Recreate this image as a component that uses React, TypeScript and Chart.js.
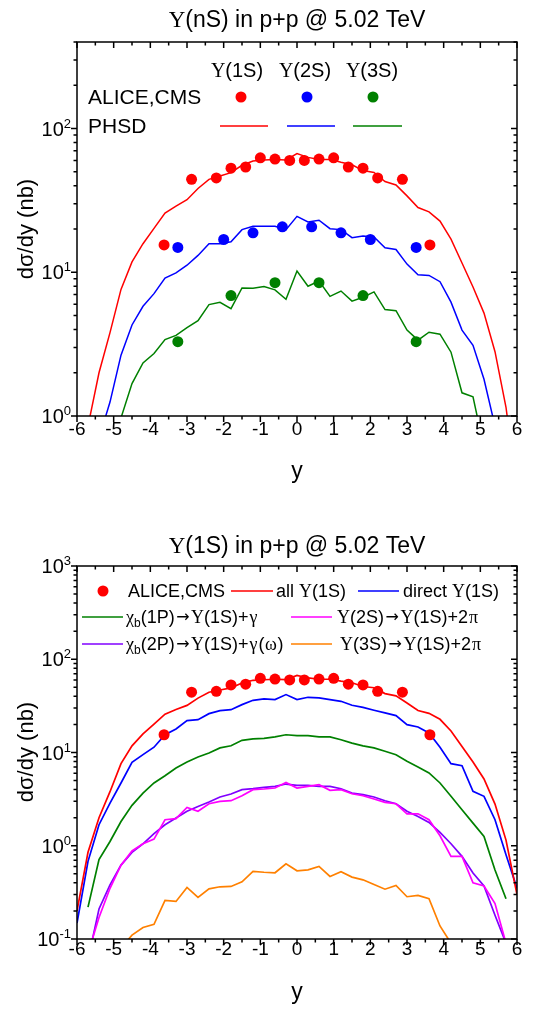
import React, { useEffect, useRef } from 'react';
import { Chart, registerables } from 'chart.js';
Chart.register(...registerables);

// ---------- data ----------
const Y_GRID = [-6.0, -5.7, -5.4, -5.1, -4.8, -4.5, -4.2, -3.9, -3.6, -3.3, -3.0, -2.7, -2.4, -2.1, -1.8, -1.5, -1.2, -0.9, -0.6, -0.3, 0.0, 0.3, 0.6, 0.9, 1.2, 1.5, 1.8, 2.1, 2.4, 2.7, 3.0, 3.3, 3.6, 3.9, 4.2, 4.5, 4.8, 5.1, 5.4, 5.7, 6.0];

// measured data (ALICE, CMS)
const DATA_1S_Y = [-3.625, -2.875, -2.2, -1.8, -1.4, -1.0, -0.6, -0.2, 0.2, 0.6, 1.0, 1.4, 1.8, 2.2, 2.875, 3.625];
const DATA_1S = [15.5, 44.3, 45.3, 53.0, 54.0, 62.5, 61.3, 60.0, 60.0, 61.3, 62.5, 54.0, 53.0, 45.3, 44.3, 15.5];
const DATA_2S_Y = [-3.25, -2.0, -1.2, -0.4, 0.4, 1.2, 2.0, 3.25];
const DATA_2S = [14.9, 16.9, 18.8, 20.7, 20.7, 18.8, 16.9, 14.9];
const DATA_3S_Y = [-3.25, -1.8, -0.6, 0.6, 1.8, 3.25];
const DATA_3S = [3.29, 6.88, 8.47, 8.47, 6.88, 3.29];

// PHSD curves (top panel)
const PHSD_1S = [0.2, 0.85, 2.0, 3.8, 7.6, 11.8, 15.8, 20.2, 25.8, 28.9, 32.0, 38.3, 44.3, 46.8, 49.3, 55.5, 59.5, 60.3, 61.0, 60.5, 67.0, 63.0, 61.0, 61.0, 58.2, 56.0, 51.0, 49.5, 42.8, 40.5, 34.0, 28.2, 26.3, 22.7, 17.0, 11.6, 7.9, 5.2, 2.8, 1.15, 0.3];
const PHSD_2S = [0.15, 0.35, 0.7, 1.25, 2.65, 4.3, 5.8, 7.1, 9.1, 9.9, 11.2, 13.1, 15.8, 15.8, 16.3, 19.8, 20.9, 20.9, 20.9, 19.8, 24.5, 22.4, 23.0, 20.1, 19.8, 17.4, 17.9, 17.6, 14.8, 14.4, 11.4, 9.6, 9.5, 8.6, 6.2, 3.96, 3.1, 1.8, 0.85, 0.35, 0.15];
const PHSD_3S = [0.1, 0.2, 0.35, 0.55, 0.97, 1.68, 2.34, 2.72, 3.4, 3.64, 4.12, 4.61, 5.96, 6.18, 5.58, 7.78, 7.74, 7.95, 7.54, 6.49, 10.2, 8.0, 8.7, 6.8, 7.4, 6.3, 6.7, 7.3, 5.5, 5.4, 3.96, 3.37, 3.83, 3.71, 2.78, 1.45, 1.36, 0.6, 0.3, 0.15, 0.1];

// bottom panel components
const ALL_1S = PHSD_1S;
const DIRECT_1S = [0.148, 0.68, 1.68, 2.87, 4.71, 7.84, 9.48, 11.4, 15.5, 17.9, 22.0, 22.5, 26.1, 28.1, 28.8, 32.6, 36.3, 37.5, 36.9, 41.8, 36.9, 39.1, 38.5, 36.9, 35.4, 32.1, 30.5, 28.4, 26.6, 24.9, 19.9, 18.8, 16.2, 11.4, 7.59, 7.22, 3.83, 3.39, 1.9, 0.8, 0.35];
const CHIB1P = [null, 0.22, 0.71, 1.11, 1.82, 2.71, 3.67, 4.71, 5.64, 6.82, 7.91, 8.95, 9.88, 11.2, 11.8, 13.5, 14.0, 14.2, 14.7, 15.5, 15.2, 15.2, 14.7, 14.7, 13.7, 12.6, 11.8, 11.2, 10.3, 9.48, 8.04, 6.99, 6.03, 4.71, 3.39, 2.43, 1.75, 1.26, 0.55, 0.27, null];
const UPS2S = [null, 0.07, 0.17, 0.35, 0.62, 0.88, 1.05, 1.18, 1.9, 1.95, 2.58, 2.34, 2.82, 2.99, 3.04, 3.44, 3.99, 4.06, 4.16, 4.78, 4.16, 4.33, 4.52, 3.93, 3.99, 3.61, 3.44, 3.17, 2.92, 2.82, 2.2, 2.2, 1.9, 1.28, 0.77, 0.77, 0.4, 0.37, 0.24, 0.09, null];
const CHIB2P = [null, 0.06, 0.21, 0.38, 0.62, 0.85, 1.05, 1.35, 1.68, 1.98, 2.34, 2.64, 2.94, 3.33, 3.59, 3.99, 4.09, 4.23, 4.34, 4.59, 4.44, 4.44, 4.34, 4.34, 4.09, 3.67, 3.53, 3.33, 3.04, 2.82, 2.34, 2.06, 1.78, 1.39, 1.05, 0.77, 0.51, 0.37, 0.18, 0.09, null];
const UPS3S = [null, null, null, null, 0.08, 0.11, 0.133, 0.144, 0.259, 0.253, 0.357, 0.279, 0.345, 0.363, 0.366, 0.411, 0.531, 0.52, 0.513, 0.641, 0.539, 0.552, 0.6, 0.469, 0.526, 0.461, 0.431, 0.384, 0.342, 0.375, 0.284, 0.293, 0.27, 0.138, 0.09, null, null, null, null, null, null];

// axis ticks
const X_TICKS = [-6, -5, -4, -3, -2, -1, 0, 1, 2, 3, 4, 5, 6];
const TOP_Y_EXP = [0, 1, 2];
const BOT_Y_EXP = [-1, 0, 1, 2, 3];

// ---------- styling ----------
const SANS = '"Liberation Sans", Arial, sans-serif';
const SERIF = '"Liberation Serif", "Times New Roman", serif';
const ARROW = '"DejaVu Sans", sans-serif';
const RED = '#ff0000', BLUE = '#0000ff', GREEN = '#008000', MAGENTA = '#ff00ff', PURPLE = '#8000ff', ORANGE = '#ff8000';

type Seg = { t: string; f: string; dy?: number; pad?: number };

function drawRich(ctx: CanvasRenderingContext2D, segs: Seg[], x: number, y: number, align: 'left' | 'center' | 'right' = 'left') {
  let w = 0;
  for (const s of segs) { ctx.font = s.f; w += ctx.measureText(s.t).width + 2 * (s.pad || 0); }
  let cx = align === 'left' ? x : align === 'center' ? x - w / 2 : x - w;
  ctx.textAlign = 'left';
  ctx.textBaseline = 'alphabetic';
  for (const s of segs) {
    ctx.font = s.f;
    cx += s.pad || 0;
    ctx.fillText(s.t, cx, y + (s.dy || 0));
    cx += ctx.measureText(s.t).width + (s.pad || 0);
  }
}

const pts = (xs: number[], ys: (number | null)[]) => xs.map((x, i) => ({ x, y: ys[i] }));

function dots(xs: number[], ys: number[], color: string) {
  return {
    data: pts(xs, ys), showLine: false, pointRadius: 5.5, pointHoverRadius: 5.5,
    pointBackgroundColor: color, pointBorderWidth: 0, borderColor: color, backgroundColor: color, order: 0, clip: false as any,
  };
}
function line(ys: (number | null)[], color: string, w = 1.5) {
  return {
    data: pts(Y_GRID, ys), borderColor: color, borderWidth: w, pointRadius: 0, pointHoverRadius: 0,
    tension: 0, fill: false, order: 1, clip: 0, spanGaps: false,
  };
}

type Deco = {
  yExp: number[];
  title: Seg[];
  titleY: number;
  xTitleY: number;
  yTitleY: number;
  xLabelY: number;
  legend: (ctx: CanvasRenderingContext2D) => void;
};

function decoPlugin(d: Deco) {
  return {
    id: 'deco',
    afterDraw(chart: any) {
      const { ctx, chartArea: a, scales } = chart;
      const xs = scales.x, ys = scales.y;
      ctx.save();
      ctx.strokeStyle = '#000';
      ctx.fillStyle = '#000';
      ctx.lineWidth = 1.5;
      ctx.strokeRect(a.left, a.top, a.right - a.left, a.bottom - a.top);
      const MAJ = 6, MIN = 3.5;
      ctx.beginPath();
      for (let i = 0; i < X_TICKS.length; i++) {
        const v = X_TICKS[i];
        const px = xs.getPixelForValue(v);
        ctx.moveTo(px, a.bottom); ctx.lineTo(px, a.bottom + MAJ);
        ctx.moveTo(px, a.top); ctx.lineTo(px, a.top + MAJ);
        if (i < X_TICKS.length - 1) {
          const pm = xs.getPixelForValue(v + 0.5);
          ctx.moveTo(pm, a.bottom); ctx.lineTo(pm, a.bottom + MIN);
          ctx.moveTo(pm, a.top); ctx.lineTo(pm, a.top + MIN);
        }
      }
      const lo = Math.floor(Math.log10(ys.min)), hi = Math.ceil(Math.log10(ys.max));
      for (let e = lo; e <= hi; e++) {
        for (let k = 1; k <= 9; k++) {
          const v = k * Math.pow(10, e);
          if (v < ys.min * 0.999 || v > ys.max * 1.001) continue;
          const py = ys.getPixelForValue(v);
          const L = k === 1 ? MAJ : MIN;
          ctx.moveTo(a.left, py); ctx.lineTo(a.left - L, py);
          ctx.moveTo(a.right, py); ctx.lineTo(a.right - L, py);
        }
      }
      ctx.stroke();

      ctx.font = `19px ${SANS}`;
      ctx.textAlign = 'center';
      ctx.textBaseline = 'alphabetic';
      for (const v of X_TICKS) {
        ctx.fillText(String(v), xs.getPixelForValue(v), d.xLabelY);
      }
      for (const e of d.yExp) {
        const py = ys.getPixelForValue(Math.pow(10, e));
        const sup = String(e);
        ctx.font = `13px ${SANS}`;
        const w2 = ctx.measureText(sup).width;
        ctx.font = `20px ${SANS}`;
        const w1 = ctx.measureText('10').width;
        const right = a.left - 6;
        ctx.textAlign = 'left';
        ctx.fillText('10', right - w2 - w1, py + 7);
        ctx.font = `13px ${SANS}`;
        ctx.fillText(sup, right - w2, py - 1);
      }
      drawRich(ctx, d.title, (a.left + a.right) / 2, d.titleY, 'center');
      ctx.font = `23px ${SANS}`;
      ctx.textAlign = 'center';
      ctx.fillText('y', (a.left + a.right) / 2, d.xTitleY);
      ctx.save();
      ctx.translate(27, d.yTitleY);
      ctx.rotate(-Math.PI / 2);
      ctx.font = `22px ${SANS}`;
      ctx.textAlign = 'center';
      ctx.textBaseline = 'middle';
      ctx.fillText('dσ/dy (nb)', 0, 0);
      ctx.restore();
      d.legend(ctx);
      ctx.restore();
    },
  };
}

function legLine(ctx: CanvasRenderingContext2D, x1: number, x2: number, y: number, color: string, w = 1.6) {
  ctx.save();
  ctx.strokeStyle = color; ctx.lineWidth = w;
  ctx.beginPath(); ctx.moveTo(x1, y); ctx.lineTo(x2, y); ctx.stroke();
  ctx.restore();
}
function legDot(ctx: CanvasRenderingContext2D, x: number, y: number, color: string) {
  ctx.save();
  ctx.fillStyle = color;
  ctx.beginPath(); ctx.arc(x, y, 5.5, 0, Math.PI * 2); ctx.fill();
  ctx.restore();
}

function topLegend(ctx: CanvasRenderingContext2D) {
  ctx.fillStyle = '#000';
  const f = `20px ${SANS}`, fs = `20px ${SERIF}`;
  drawRich(ctx, [{ t: 'Υ', f: fs }, { t: '(1S)', f }], 237, 77, 'center');
  drawRich(ctx, [{ t: 'Υ', f: fs }, { t: '(2S)', f }], 305, 77, 'center');
  drawRich(ctx, [{ t: 'Υ', f: fs }, { t: '(3S)', f }], 372, 77, 'center');
  drawRich(ctx, [{ t: 'ALICE,CMS', f: `21px ${SANS}` }], 88, 104, 'left');
  drawRich(ctx, [{ t: 'PHSD', f: `21px ${SANS}` }], 88, 133, 'left');
  legDot(ctx, 241, 97, RED);
  legDot(ctx, 307, 97, BLUE);
  legDot(ctx, 373, 97, GREEN);
  legLine(ctx, 220, 268, 126, RED);
  legLine(ctx, 287, 335, 126, BLUE);
  legLine(ctx, 353, 402, 126, GREEN);
}

function bottomLegend(ctx: CanvasRenderingContext2D) {
  ctx.fillStyle = '#000';
  const f = `18px ${SANS}`, fs = `18px ${SERIF}`, sub = `12px ${SANS}`, ar = `16px ${ARROW}`;
  const r1 = 86, r2 = 112, r3 = 139;
  const arrow: Seg = { t: '→', f: ar, dy: -1, pad: 1.5 };
  legDot(ctx, 103, r1, RED);
  drawRich(ctx, [{ t: 'ALICE,CMS', f }], 128, r1 + 6);
  legLine(ctx, 231, 273, r1, RED);
  drawRich(ctx, [{ t: 'all ', f }, { t: 'Υ', f: fs }, { t: '(1S)', f }], 276, r1 + 6);
  legLine(ctx, 358, 399, r1, BLUE);
  drawRich(ctx, [{ t: 'direct ', f }, { t: 'Υ', f: fs }, { t: '(1S)', f }], 403, r1 + 6);

  legLine(ctx, 82, 123, r2, GREEN);
  drawRich(ctx, [{ t: 'χ', f: fs }, { t: 'b', f: sub, dy: 4 }, { t: '(1P)', f }, arrow, { t: 'Υ', f: fs }, { t: '(1S)+', f }, { t: 'γ', f: fs, pad: 1 }], 126, r2 + 6);
  legLine(ctx, 291, 332, r2, MAGENTA);
  drawRich(ctx, [{ t: 'Υ', f: fs }, { t: '(2S)', f }, arrow, { t: 'Υ', f: fs }, { t: '(1S)+2', f }, { t: 'π', f: fs, pad: 1 }], 337, r2 + 6);

  legLine(ctx, 82, 123, r3, PURPLE);
  drawRich(ctx, [{ t: 'χ', f: fs }, { t: 'b', f: sub, dy: 4 }, { t: '(2P)', f }, arrow, { t: 'Υ', f: fs }, { t: '(1S)+', f }, { t: 'γ', f: fs, pad: 1 }, { t: '(', f }, { t: 'ω', f: fs, pad: 0.5 }, { t: ')', f }], 126, r3 + 6);
  legLine(ctx, 291, 332, r3, ORANGE);
  drawRich(ctx, [{ t: 'Υ', f: fs }, { t: '(3S)', f }, arrow, { t: 'Υ', f: fs }, { t: '(1S)+2', f }, { t: 'π', f: fs, pad: 1 }], 340, r3 + 6);
}

function baseOptions(ymin: number, ymax: number, padding: any) {
  return {
    responsive: false,
    animation: false as const,
    devicePixelRatio: 1,
    layout: { padding },
    events: [] as any,
    plugins: { legend: { display: false }, tooltip: { enabled: false }, title: { display: false } },
    scales: {
      x: { type: 'linear' as const, min: -6, max: 6, display: false },
      y: { type: 'logarithmic' as const, min: ymin, max: ymax, display: false },
    },
  };
}

function topConfig(): any {
  return {
    type: 'line',
    data: {
      datasets: [
        dots(DATA_1S_Y, DATA_1S, RED),
        dots(DATA_2S_Y, DATA_2S, BLUE),
        dots(DATA_3S_Y, DATA_3S, GREEN),
        line(PHSD_1S, RED),
        line(PHSD_2S, BLUE),
        line(PHSD_3S, GREEN),
      ],
    },
    options: baseOptions(1, 400, { left: 77, right: 34, top: 42, bottom: 89 }),
    plugins: [decoPlugin({
      yExp: TOP_Y_EXP,
      title: [{ t: 'Υ', f: `23px ${SERIF}` }, { t: '(nS) in p+p @ 5.02 TeV', f: `23px ${SANS}` }],
      titleY: 27, xTitleY: 478, yTitleY: 229, xLabelY: 435, legend: topLegend,
    })],
  };
}

function bottomConfig(): any {
  return {
    type: 'line',
    data: {
      datasets: [
        dots(DATA_1S_Y, DATA_1S, RED),
        line(ALL_1S, RED, 1.7),
        line(DIRECT_1S, BLUE, 1.7),
        line(CHIB1P, GREEN, 1.7),
        line(UPS2S, MAGENTA, 1.7),
        line(CHIB2P, PURPLE, 1.7),
        line(UPS3S, ORANGE, 1.7),
      ],
    },
    options: baseOptions(0.1, 1000, { left: 77, right: 34, top: 61, bottom: 70 }),
    plugins: [decoPlugin({
      yExp: BOT_Y_EXP,
      title: [{ t: 'Υ', f: `23px ${SERIF}` }, { t: '(1S) in p+p @ 5.02 TeV', f: `23px ${SANS}` }],
      titleY: 48, xTitleY: 494, yTitleY: 247, xLabelY: 450, legend: bottomLegend,
    })],
  };
}

function ChartCanvas({ make, top, height }: { make: () => any; top: number; height: number }) {
  const ref = useRef<HTMLCanvasElement>(null);
  useEffect(() => {
    const chart = new Chart(ref.current as HTMLCanvasElement, make());
    return () => chart.destroy();
  }, []);
  return (
    <canvas ref={ref} width={551} height={height}
      style={{ position: 'absolute', left: 0, top, width: 551, height, display: 'block' }} />
  );
}

export default function App() {
  return (
    <div style={{ position: 'absolute', left: 0, top: 0, width: 551, height: 1009, background: '#fff' }}>
      <ChartCanvas make={topConfig} top={0} height={505} />
      <ChartCanvas make={bottomConfig} top={505} height={504} />
    </div>
  );
}
